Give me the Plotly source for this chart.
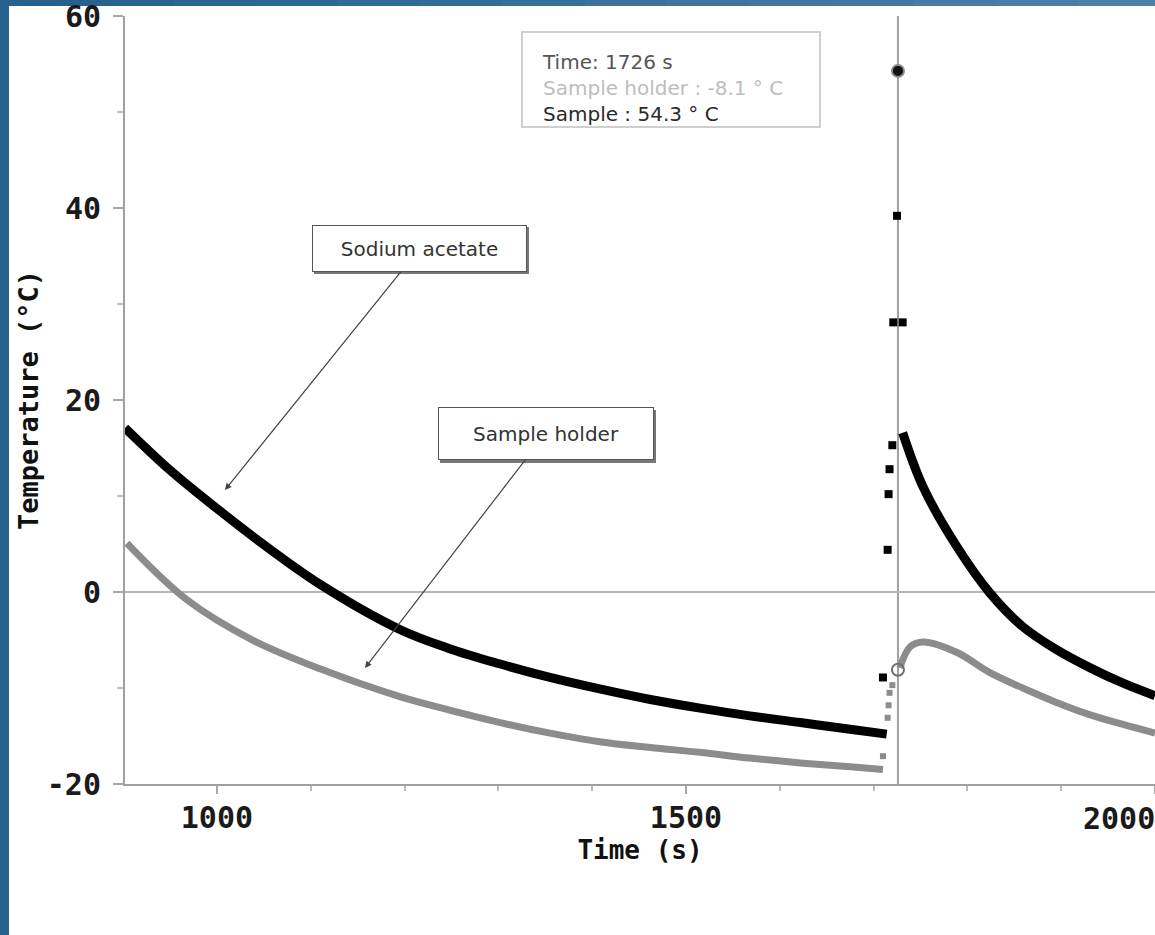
import plotly.graph_objects as go

# ---------------- data ----------------
# Sample (sodium acetate), cooling before crystallisation
sample_t1 = [902, 950, 1000, 1056, 1110, 1195, 1248, 1302, 1355, 1408, 1462, 1515, 1568, 1622, 1675, 1714]
sample_T1 = [17.1, 12.7, 8.7, 4.5, 0.8, -3.9, -5.9, -7.5, -8.9, -10.1, -11.2, -12.1, -12.9, -13.6, -14.3, -14.8]
# Sample after crystallisation
sample_t2 = [1731, 1753, 1789, 1824, 1859, 1895, 1931, 1966, 2000]
sample_T2 = [16.6, 10.9, 4.7, -0.1, -3.6, -6.0, -7.9, -9.5, -10.8]
# isolated sample readings during the jump
sample_spike_t = [1710, 1715, 1716, 1717, 1720, 1721, 1731, 1725]
sample_spike_T = [-8.9, 4.4, 10.2, 12.8, 15.3, 28.1, 28.1, 39.2]

# Sample holder
holder_t1 = [904, 968, 1038, 1110, 1195, 1248, 1302, 1355, 1408, 1462, 1515, 1568, 1622, 1675, 1710]
holder_T1 = [5.1, -0.8, -5.0, -8.0, -10.9, -12.3, -13.6, -14.7, -15.6, -16.2, -16.7, -17.3, -17.8, -18.2, -18.5]
holder_t2 = [1728, 1739, 1753, 1789, 1824, 1859, 1895, 1931, 1966, 2000]
holder_T2 = [-7.9, -5.7, -5.2, -6.3, -8.4, -10.0, -11.5, -12.8, -13.8, -14.7]
holder_spike_t = [1710, 1715, 1716, 1717, 1720]
holder_spike_T = [-17.1, -13.1, -11.8, -10.5, -9.7]

# cursor readout
cursor_time = 1726
cursor_sample = 54.3
cursor_holder = -8.1

x_ticks = [1000, 1500, 2000]
x_ticklabels = ["1000", "1500", ""]
y_ticks = [-20, 0, 20, 40, 60]
y_ticklabels = ["-20", "0", "20", "40", "60"]

# ---------------- layout helpers (pixel -> paper) ----------------
L, R, T, B = 125, 1155, 16, 784
def px(x):
    return (x - L) / (R - L)
def py(y):
    return (B - y) / (B - T)

BLACK = "#000000"
GREY = "#8c8c8c"
FRAME = "rgb(37,97,140)"

fig = go.Figure()

# sample holder
fig.add_trace(go.Scatter(x=holder_t1, y=holder_T1, mode="lines",
                         line=dict(color=GREY, width=7, shape="spline")))
fig.add_trace(go.Scatter(x=holder_t2, y=holder_T2, mode="lines",
                         line=dict(color=GREY, width=7, shape="spline")))
fig.add_trace(go.Scatter(x=holder_spike_t, y=holder_spike_T, mode="markers",
                         marker=dict(symbol="square", size=6, color=GREY)))
# sample
fig.add_trace(go.Scatter(x=sample_t1, y=sample_T1, mode="lines",
                         line=dict(color=BLACK, width=9, shape="spline")))
fig.add_trace(go.Scatter(x=sample_t2, y=sample_T2, mode="lines",
                         line=dict(color=BLACK, width=9, shape="spline")))
fig.add_trace(go.Scatter(x=sample_spike_t, y=sample_spike_T, mode="markers",
                         marker=dict(symbol="square", size=8, color=BLACK)))
# cursor markers
fig.add_trace(go.Scatter(x=[cursor_time], y=[cursor_holder], mode="markers",
                         marker=dict(symbol="circle-open", size=12, color="#6e6e6e",
                                     line=dict(width=2, color="#6e6e6e"))))
fig.add_trace(go.Scatter(x=[cursor_time], y=[cursor_sample], mode="markers",
                         marker=dict(symbol="circle", size=12, color="#111111",
                                     line=dict(width=2, color="#8a8a8a"))))

shapes = []
# blue frame: left bar
shapes.append(dict(type="rect", xref="paper", yref="paper", layer="below",
                   x0=px(-5), x1=px(9), y0=py(945), y1=py(-5),
                   fillcolor=FRAME, line=dict(width=0)))
# blue frame: top bar with gradient
n = 14
c0 = (37, 97, 140)
c1 = (78, 128, 168)
for i in range(n):
    f = i / (n - 1)
    col = "rgb(%d,%d,%d)" % tuple(int(c0[k] + (c1[k] - c0[k]) * f) for k in range(3))
    xa = 9 + (1160 - 9) * i / n
    xb = 9 + (1160 - 9) * (i + 1) / n + 1
    shapes.append(dict(type="rect", xref="paper", yref="paper", layer="below",
                       x0=px(xa), x1=px(xb), y0=py(6), y1=py(-5),
                       fillcolor=col, line=dict(width=0)))
# info box border
shapes.append(dict(type="rect", xref="paper", yref="paper", layer="above",
                   x0=px(522), x1=px(820), y0=py(127), y1=py(32),
                   fillcolor="rgba(255,255,255,0)", line=dict(color="#cfcfcf", width=2)))
# shadows of the label boxes
shapes.append(dict(type="rect", xref="paper", yref="paper", layer="above",
                   x0=px(314), x1=px(529), y0=py(274), y1=py(227),
                   fillcolor="#777777", line=dict(width=0)))
shapes.append(dict(type="rect", xref="paper", yref="paper", layer="above",
                   x0=px(440), x1=px(656), y0=py(463), y1=py(410),
                   fillcolor="#777777", line=dict(width=0)))

annotations = []
annotations.append(dict(
    xref="paper", yref="paper", x=px(540), y=py(48), xanchor="left", yanchor="top",
    align="left", showarrow=False,
    font=dict(family="DejaVu Sans", size=20, color="#555555"),
    text=("Time: %d s<br><span style='color:#bdbdbd'>Sample holder : %.1f ° C</span>"
          "<br><span style='color:#2a2a2a'>Sample : %.1f ° C</span>")
         % (cursor_time, cursor_holder, cursor_sample)))

def to_x(pxv):
    return 902 + (pxv - L) * (2000 - 902) / (R - L)
def to_y(pyv):
    return 60 - (pyv - T) * 80 / (B - T)

annotations.append(dict(
    x=to_x(225), y=to_y(490), xref="x", yref="y", ax=194.5, ay=-241.5,
    text="Sodium acetate", showarrow=True, arrowhead=2, arrowsize=1.1, arrowwidth=1.2,
    arrowcolor="#444444", font=dict(family="DejaVu Sans", size=20, color="#333333"),
    bgcolor="white", bordercolor="#555555", borderwidth=1, borderpad=0,
    width=213, height=45))
annotations.append(dict(
    x=to_x(365), y=to_y(668), xref="x", yref="y", ax=180.5, ay=-234.5,
    text="Sample holder", showarrow=True, arrowhead=2, arrowsize=1.1, arrowwidth=1.2,
    arrowcolor="#444444", font=dict(family="DejaVu Sans", size=20, color="#333333"),
    bgcolor="white", bordercolor="#555555", borderwidth=1, borderpad=0,
    width=214, height=51))

mono = "DejaVu Sans Mono"
tickfont = dict(family=mono, size=30, color="#1a1a1a", weight="bold")
# last x tick label, kept inside the page like in the original
annotations.append(dict(
    x=2000, xref="x", y=0, yref="paper", xanchor="right", yanchor="top",
    xshift=2, yshift=-15, showarrow=False, text="2000", font=tickfont))

fig.update_layout(
    width=1155, height=935,
    margin=dict(l=L, r=1155 - R, t=T, b=935 - B, pad=0),
    paper_bgcolor="white", plot_bgcolor="white",
    showlegend=False,
    shapes=shapes, annotations=annotations,
    xaxis=dict(range=[902, 2000], tickmode="array", tickvals=x_ticks, ticktext=x_ticklabels,
               ticks="outside", ticklen=8, tickwidth=1.5, tickcolor="#aaaaaa",
               showline=True, linecolor="#a0a0a0", linewidth=2, showgrid=False, zeroline=False,
               tickfont=tickfont, ticklabelstandoff=-2,
               minor=dict(tickmode="linear", tick0=900, dtick=100, ticks="outside",
                          ticklen=5, tickcolor="#bbbbbb", showgrid=False),
               title=dict(text="Time (s)",
                          font=dict(family=mono, size=26, color="#111111", weight="bold"),
                          standoff=0)),
    yaxis=dict(range=[-20, 60.02], tickmode="array", tickvals=y_ticks, ticktext=y_ticklabels,
               ticks="outside", ticklen=10, tickwidth=1.5, tickcolor="#aaaaaa",
               showline=True, linecolor="#a0a0a0", linewidth=2, showgrid=False,
               zeroline=True, zerolinecolor="#b5b5b5", zerolinewidth=2,
               tickfont=tickfont, ticklabelstandoff=6, ticklabeloverflow="allow",
               minor=dict(tickmode="linear", tick0=-20, dtick=10, ticks="outside",
                          ticklen=6, tickcolor="#bbbbbb", showgrid=False),
               title=dict(text="Temperature (°C)",
                          font=dict(family=mono, size=27, color="#111111", weight="bold"),
                          standoff=0)),
)

# cursor line (added after the layout shapes so it is appended, not merged)
fig.add_vline(x=cursor_time, line=dict(color="#a0a0a0", width=2), layer="below")

fig.write_html("out.html")
